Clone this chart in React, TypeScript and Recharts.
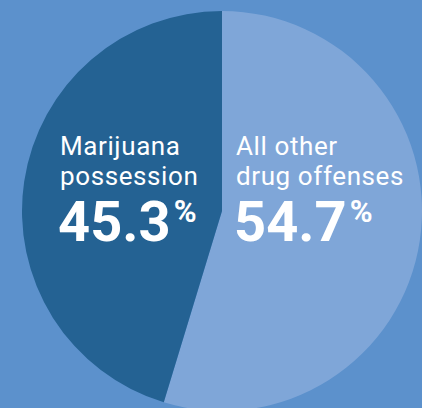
import { Cell, Pie, PieChart } from "recharts";

// slices go clockwise from 12 o'clock
const categories = ["All other drug offenses", "Marijuana possession"];
const labelLines = [
  ["All other", "drug offenses"],
  ["Marijuana", "possession"],
];
const shares = [54.7, 45.3];
const sliceColors = ["#7fa6d8", "#246293"];

const data = categories.map((name, i) => ({
  name,
  value: shares[i],
  lines: labelLines[i],
  color: sliceColors[i],
}));

const BG = "#5c91cc";
const FONT = "Roboto, 'DejaVu Sans', sans-serif";

// text block left edge relative to the pie centre
const labelOffsetX = [14, -162];

function SliceLabel(props: any) {
  const { cx, cy, index } = props;
  const d = data[index];
  const x = cx + labelOffsetX[index];
  const pct = d.value.toFixed(1);
  return (
    <g fontFamily={FONT} fill="#ffffff">
      <text x={x} y={cy - 56} fontSize={26} fontWeight={400} letterSpacing={0.6}>
        {d.lines[0]}
      </text>
      <text x={x} y={cy - 26} fontSize={26} fontWeight={400} letterSpacing={0.6}>
        {d.lines[1]}
      </text>
      <text x={x - 2} y={cy + 30} fontSize={56} fontWeight={700}>
        <tspan>{pct}</tspan>
        <tspan dx={3} dy={-19} fontSize={31}>
          %
        </tspan>
      </text>
    </g>
  );
}

export default function App() {
  return (
    <div
      style={{
        position: "fixed",
        left: 0,
        top: 0,
        width: 422,
        height: 408,
        background: BG,
        overflow: "hidden",
      }}
    >
      <PieChart width={422} height={408} margin={{ top: 0, right: 0, bottom: 0, left: 0 }}>
        <Pie
          data={data}
          dataKey="value"
          nameKey="name"
          cx={222}
          cy={211}
          outerRadius={200}
          startAngle={90}
          endAngle={-270}
          stroke="none"
          label={SliceLabel}
          labelLine={false}
          isAnimationActive={false}
        >
          {data.map((entry) => (
            <Cell key={entry.name} fill={entry.color} />
          ))}
        </Pie>
      </PieChart>
    </div>
  );
}
